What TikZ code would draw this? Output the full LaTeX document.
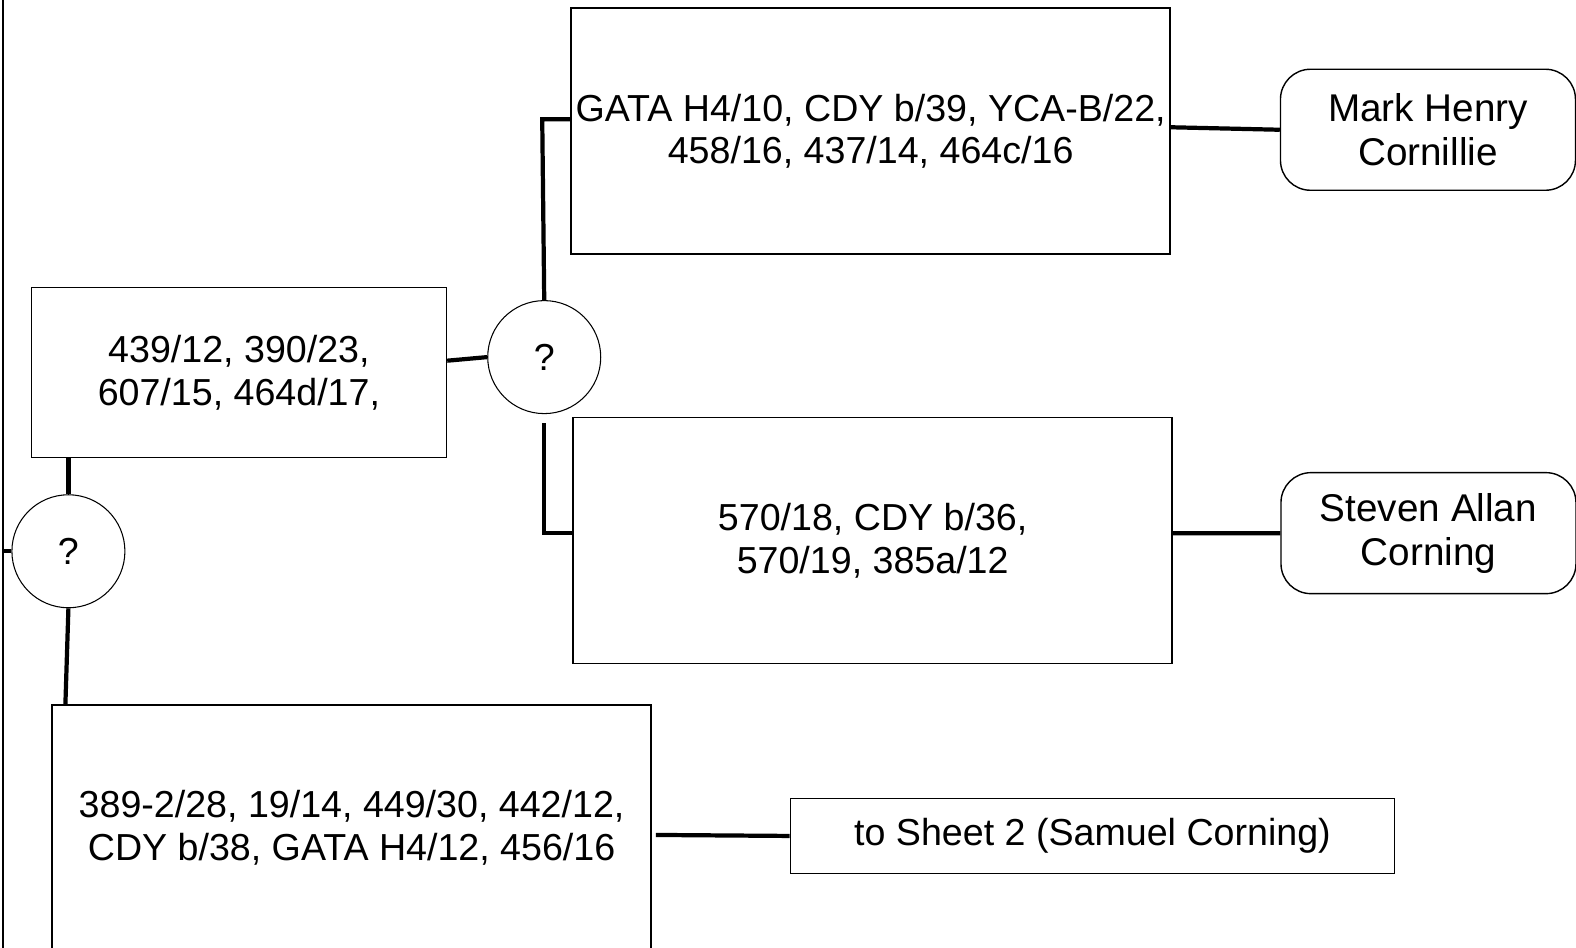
\documentclass[tikz,border=0pt]{standalone}
\usepackage{fontspec}
\setmainfont{Liberation Sans}
\begin{document}
\begin{tikzpicture}[x=0.1006mm,y=-0.1006mm,
	box/.style={draw,line width=0.45pt,align=center,inner sep=0pt,font=\fontsize{10.7}{12}\selectfont},
	namebox/.style={draw,line width=0.4pt,rounded corners=3mm,align=center,inner sep=0pt,
		minimum width=29.5mm,minimum height=12.1mm,font=\fontsize{11}{12.6}\selectfont},
	qnode/.style={draw,circle,line width=0.3pt,minimum size=11.3mm,inner sep=0pt,font=\fontsize{10.7}{12}\selectfont},
	link/.style={line width=1.2pt}]
	\useasboundingbox (0mm,0mm) rectangle (157.6mm,-94.8mm);
	% left border
	\coordinate (edgetop) at (3,0);
	\coordinate (edgebot) at (3,948);
	\draw[line width=0.45pt] (edgetop) -- (edgebot);
	% boxes
	\node[box,minimum width=59.9mm,minimum height=24.6mm] (gata) at (865.5,130.5) {GATA H4/10, CDY b/39, YCA-B/22,\\458/16, 437/14, 464c/16};
	\node[namebox] (mark) at (1419.5,129) {Mark Henry\\Cornillie};
	\node[box,minimum width=41.5mm,minimum height=17mm] (grp) at (237.5,370.5) {439/12, 390/23,\\607/15, 464d/17,};
	\node[qnode] (qtop) at (541,355) {?};
	\node[box,minimum width=59.9mm,minimum height=24.6mm] (cdy) at (867.5,537.5) {570/18, CDY b/36,\\570/19, 385a/12};
	\node[namebox] (steven) at (1420,530) {Steven Allan\\Corning};
	\node[qnode] (qleft) at (68,548) {?};
	\node[box,minimum width=59.9mm,minimum height=26mm,text depth=1.9mm] (base) at (349.5,830) {389-2/28, 19/14, 449/30, 442/12,\\CDY b/38, GATA H4/12, 456/16};
	\node[box,minimum width=60.4mm,minimum height=7.5mm] (sheet) at (1086,831) {to Sheet 2 (Samuel Corning)};
	% helper points
	\coordinate (ga) at ([yshift=1.2mm]gata.west);
	\coordinate (cc) at ([yshift=0.75mm]cdy.west);
	\coordinate (bt) at ([xshift=-0.3mm]qleft.south |- base.north);
	% connectors
	\draw[link] ([yshift=1.2mm]grp.east) -- (qtop.west);
	\draw[link] (qtop.north) -- ([xshift=-0.2mm]qtop.north |- ga) -- (ga);
	\draw[link] ([yshift=-0.9mm]qtop.south) -- (qtop.south |- cc) -- (cc);
	\draw[link] ([yshift=0.4mm]gata.east) -- (mark.west);
	\draw[link] ([yshift=0.75mm]cdy.east) -- (steven.west);
	\draw[link] (grp.south -| qleft) -- (qleft.north);
	\draw[link] (qleft.south) -- (bt);
	\draw[link] (qleft.west) -- (qleft.west -| edgetop);
	\draw[link] ([xshift=0.4mm]base.east) -- (sheet.west);
\end{tikzpicture}
\end{document}
